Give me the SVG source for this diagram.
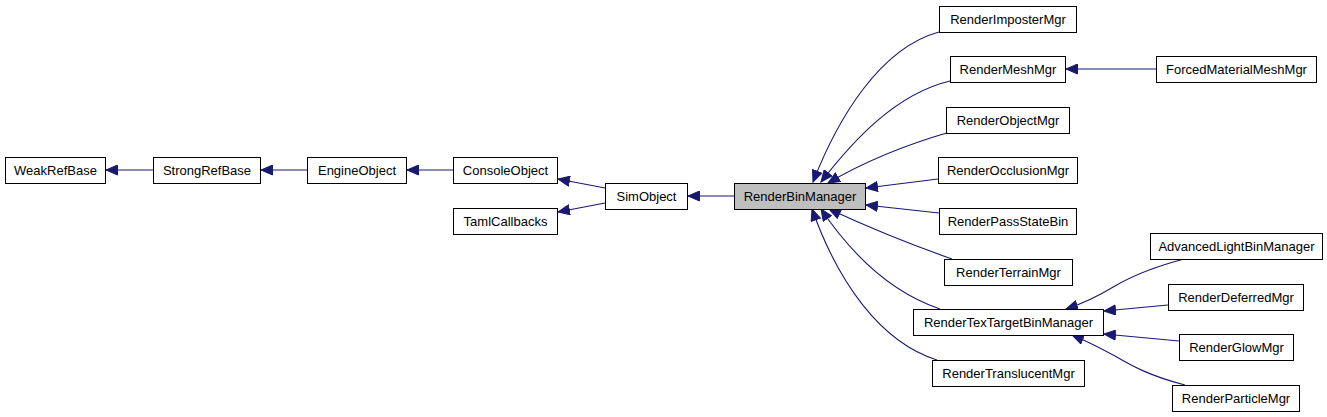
<svg xmlns="http://www.w3.org/2000/svg" width="1327" height="417" viewBox="0 0 1327 417">
<style>
.n rect{fill:#fff;stroke:#000;stroke-width:1}
.n.hl rect{fill:#bfbfbf}
.n text{font-family:"Liberation Sans",Arial,sans-serif;font-size:13px;fill:#000;text-anchor:middle}
.e path{fill:none;stroke:#191970;stroke-width:1.1;marker-end:url(#ah)}
</style>
<defs>
<marker id="ah" markerUnits="userSpaceOnUse" markerWidth="13" markerHeight="11" viewBox="0 0 13 11" refX="12" refY="5.5" orient="auto">
<path d="M0.5,0.5 L12,5.5 L0.5,10.5 Z" fill="#191970" stroke="#191970"/>
</marker>
</defs>
<rect width="1327" height="417" fill="#fff"/>
<g id="edges" class="e">
<path d="M153,170 L106,170"/>
<path d="M307,170 L261,170"/>
<path d="M453,170 L407,170"/>
<path d="M605,188 L558,179"/>
<path d="M605,203 L558,212"/>
<path d="M734,196 L688,196"/>
<path d="M939,32 C880,48 838,118 813,182"/>
<path d="M950,81 C895,94 852,142 821,182"/>
<path d="M950,132 C905,145 862,163 828,183"/>
<path d="M938,179 L866,188"/>
<path d="M939,213 L866,205"/>
<path d="M952,259 C915,246 870,228 829,209"/>
<path d="M940,309 C890,292 850,252 821,209"/>
<path d="M937,360 C880,342 838,282 812,209"/>
<path d="M1156,69 L1066,69"/>
<path d="M1184,259 C1150,268 1132,276 1115,286 C1100,295 1085,303 1066,309"/>
<path d="M1168,305 L1104,311"/>
<path d="M1179,341 L1104,334"/>
<path d="M1185,385 C1150,376 1132,366 1115,356 C1100,348 1087,341 1072,335"/>
</g>
<g id="WeakRefBase" class="n"><rect x="5.5" y="157.5" width="100" height="26"/><text x="55.5" y="175">WeakRefBase</text></g>
<g id="StrongRefBase" class="n"><rect x="153.5" y="157.5" width="107" height="26"/><text x="207" y="175">StrongRefBase</text></g>
<g id="EngineObject" class="n"><rect x="307.5" y="157.5" width="99" height="26"/><text x="357" y="175">EngineObject</text></g>
<g id="ConsoleObject" class="n"><rect x="453.5" y="157.5" width="104" height="26"/><text x="505.5" y="175">ConsoleObject</text></g>
<g id="TamlCallbacks" class="n"><rect x="453.5" y="208.5" width="104" height="26"/><text x="505.5" y="226">TamlCallbacks</text></g>
<g id="SimObject" class="n"><rect x="605.5" y="183.5" width="82" height="26"/><text x="646.5" y="201">SimObject</text></g>
<g id="RenderBinManager" class="n hl"><rect x="734.5" y="183.5" width="131" height="26"/><text x="800" y="201">RenderBinManager</text></g>
<g id="RenderImposterMgr" class="n"><rect x="939.5" y="6.5" width="137" height="26"/><text x="1008" y="24">RenderImposterMgr</text></g>
<g id="RenderMeshMgr" class="n"><rect x="950.5" y="56.5" width="115" height="26"/><text x="1008" y="74">RenderMeshMgr</text></g>
<g id="ForcedMaterialMeshMgr" class="n"><rect x="1156.5" y="56.5" width="160" height="26"/><text x="1236.5" y="74">ForcedMaterialMeshMgr</text></g>
<g id="RenderObjectMgr" class="n"><rect x="946.5" y="107.5" width="123" height="26"/><text x="1008" y="125">RenderObjectMgr</text></g>
<g id="RenderOcclusionMgr" class="n"><rect x="938.5" y="157.5" width="139" height="26"/><text x="1008" y="175">RenderOcclusionMgr</text></g>
<g id="RenderPassStateBin" class="n"><rect x="939.5" y="208.5" width="137" height="26"/><text x="1008" y="226">RenderPassStateBin</text></g>
<g id="RenderTerrainMgr" class="n"><rect x="944.5" y="259.5" width="128" height="26"/><text x="1008.5" y="277">RenderTerrainMgr</text></g>
<g id="RenderTexTargetBinManager" class="n"><rect x="913.5" y="309.5" width="190" height="26"/><text x="1008.5" y="327">RenderTexTargetBinManager</text></g>
<g id="RenderTranslucentMgr" class="n"><rect x="932.5" y="360.5" width="152" height="26"/><text x="1008.5" y="378">RenderTranslucentMgr</text></g>
<g id="AdvancedLightBinManager" class="n"><rect x="1150.5" y="233.5" width="172" height="26"/><text x="1236.5" y="251">AdvancedLightBinManager</text></g>
<g id="RenderDeferredMgr" class="n"><rect x="1168.5" y="284.5" width="135" height="26"/><text x="1236" y="302">RenderDeferredMgr</text></g>
<g id="RenderGlowMgr" class="n"><rect x="1179.5" y="334.5" width="114" height="26"/><text x="1236.5" y="352">RenderGlowMgr</text></g>
<g id="RenderParticleMgr" class="n"><rect x="1172.5" y="385.5" width="127" height="26"/><text x="1236" y="403">RenderParticleMgr</text></g>
</svg>
